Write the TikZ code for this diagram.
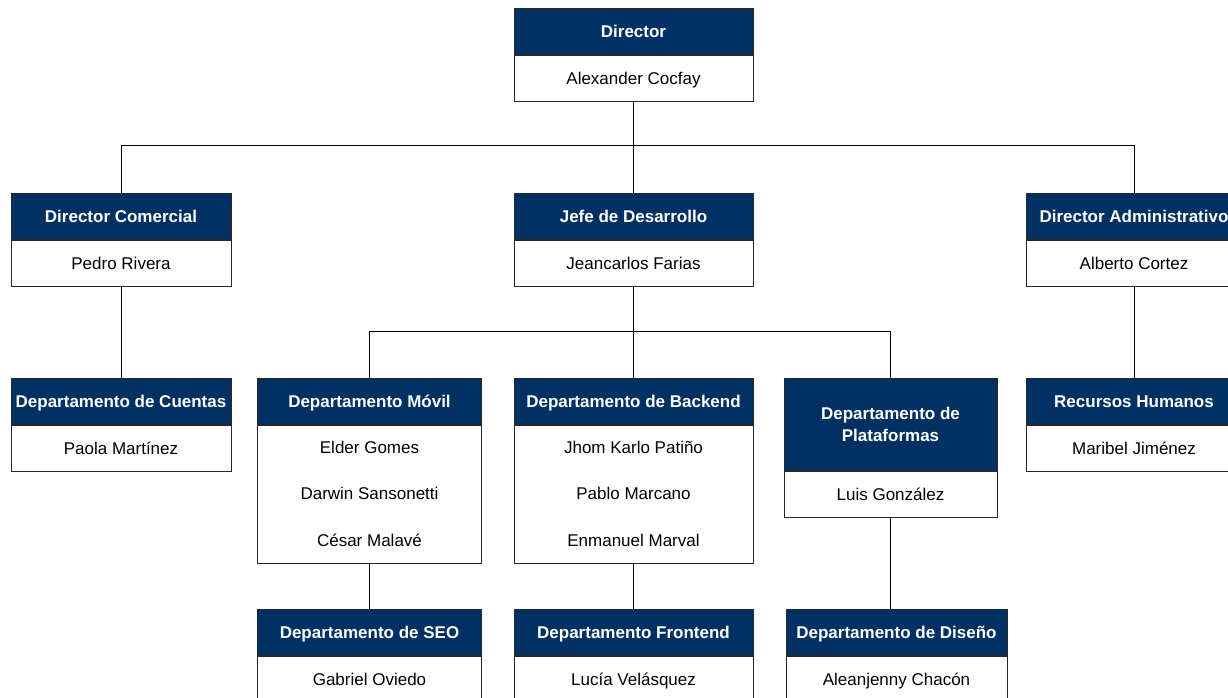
\documentclass[tikz,border=0pt]{standalone}
\usepackage{fontspec}
\setmainfont{Liberation Sans}
\definecolor{navy}{RGB}{0,49,98}
\definecolor{edge}{RGB}{40,40,40}
\tikzset{
  hdr/.style={draw=edge, line width=0.9pt, fill=navy, text=white, font=\fontsize{17}{21.5}\selectfont\bfseries, inner sep=2pt, align=center, anchor=north},
  hdrone/.style={hdr, text height=14.5pt, text depth=1.5pt},
  bdy/.style={draw=edge, line width=0.9pt, fill=white, text=black, font=\fontsize{17}{19.5}\selectfont, inner sep=2pt, align=center, anchor=north, text height=14.5pt, text depth=1.5pt},
  nm/.style={font=\fontsize{17}{19.5}\selectfont, text height=14.5pt, text depth=1.5pt}
}
\tikzset{link/.style={draw=black, line width=0.9pt}}
\begin{document}
\begin{tikzpicture}[x=1pt,y=-1pt]
\useasboundingbox (0,0) rectangle (1228,698);
\clip (0,0) rectangle (1228,698);
% Director
\node[hdrone, minimum width=239pt, minimum height=46pt] (hdir) at (633.5,8) {Director};
\node[bdy, minimum width=239pt, minimum height=46pt] (bdir) at (hdir.south) {Alexander Cocfay};
% Level 2
\node[hdrone, minimum width=220pt, minimum height=46pt] (hcom) at (121,193) {Director Comercial};
\node[bdy, minimum width=220pt, minimum height=46pt] (bcom) at (hcom.south) {Pedro Rivera};
\node[hdrone, minimum width=239pt, minimum height=46pt] (hjef) at (633.5,193) {Jefe de Desarrollo};
\node[bdy, minimum width=239pt, minimum height=46pt] (bjef) at (hjef.south) {Jeancarlos Farias};
\node[hdrone, minimum width=216pt, minimum height=46pt] (hadm) at (1134,193) {Director Administrativo};
\node[bdy, minimum width=216pt, minimum height=46pt] (badm) at (hadm.south) {Alberto Cortez};
% Level 3
\node[hdrone, minimum width=220pt, minimum height=46pt] (hcue) at (121,378) {Departamento de Cuentas};
\node[bdy, minimum width=220pt, minimum height=46pt] (bcue) at (hcue.south) {Paola Martínez};
\node[hdrone, minimum width=224pt, minimum height=46pt] (hmov) at (369.5,378) {Departamento Móvil};
\node[bdy, minimum width=224pt, minimum height=138pt, text height=0pt, text depth=0pt] (bmov) at (hmov.south) {};
\node[nm] (m1) at (369.5,447) {Elder Gomes};
\node[nm] (m2) at (369.5,493) {Darwin Sansonetti};
\node[nm] (m3) at (369.5,540) {César Malavé};
\node[hdrone, minimum width=239pt, minimum height=46pt] (hbac) at (633.5,378) {Departamento de Backend};
\node[bdy, minimum width=239pt, minimum height=138pt, text height=0pt, text depth=0pt] (bbac) at (hbac.south) {};
\node[nm] (k1) at (633.5,447) {Jhom Karlo Patiño};
\node[nm] (k2) at (633.5,493) {Pablo Marcano};
\node[nm] (k3) at (633.5,540) {Enmanuel Marval};
\node[hdr, minimum width=213pt, minimum height=92pt] (hpla) at (890.5,378) {Departamento de\\Plataformas};
\node[bdy, minimum width=213pt, minimum height=46pt] (bpla) at (hpla.south) {Luis González};
\node[hdrone, minimum width=216pt, minimum height=46pt] (hrrh) at (1134,378) {Recursos Humanos};
\node[bdy, minimum width=216pt, minimum height=46pt] (brrh) at (hrrh.south) {Maribel Jiménez};
% Level 4
\node[hdrone, minimum width=224pt, minimum height=46pt] (hseo) at (369.5,609) {Departamento de SEO};
\node[bdy, minimum width=224pt, minimum height=46pt] (bseo) at (hseo.south) {Gabriel Oviedo};
\node[hdrone, minimum width=239pt, minimum height=46pt] (hfro) at (633.5,609) {Departamento Frontend};
\node[bdy, minimum width=239pt, minimum height=46pt] (bfro) at (hfro.south) {Lucía Velásquez};
\node[hdrone, minimum width=221pt, minimum height=46pt] (hdis) at (896.5,609) {Departamento de Diseño};
\node[bdy, minimum width=221pt, minimum height=46pt] (bdis) at (hdis.south) {Aleanjenny Chacón};
% Connectors
\coordinate (j1) at (633.5,145);
\coordinate (j2) at (633.5,331);
\draw[link] (bdir.south) -- (j1);
\draw[link] (j1) -| (hcom.north);
\draw[link] (j1) -| (hadm.north);
\draw[link] (j1) -- (hjef.north);
\draw[link] (bjef.south) -- (j2);
\draw[link] (j2) -| (hmov.north);
\draw[link] (j2) -| (hpla.north);
\draw[link] (j2) -- (hbac.north);
\draw[link] (bcom.south) -- (hcue.north);
\draw[link] (badm.south) -- (hrrh.north);
\draw[link] (bmov.south) -- (hseo.north);
\draw[link] (bbac.south) -- (hfro.north);
\draw[link] (bpla.south) -- (bpla.south |- hdis.north);
\end{tikzpicture}
\end{document}
